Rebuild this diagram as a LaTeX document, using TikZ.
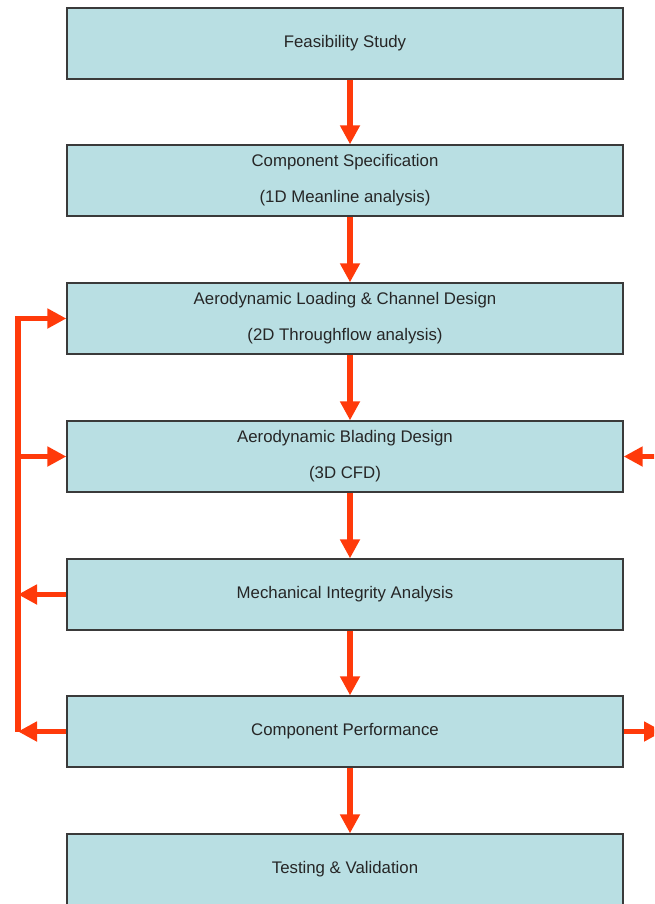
\documentclass[tikz,border=0pt]{standalone}
\usepackage{fontspec}
\setmainfont{Liberation Sans}
\usepackage{xcolor}
\usepackage{tikz}
\usetikzlibrary{arrows.meta, positioning}

\definecolor{boxfill}{HTML}{B9DFE3}
\definecolor{boxline}{HTML}{3A3A3A}
\definecolor{flowred}{HTML}{FF3A0A}

\tikzset{
  stage/.style={draw=boxline, line width=1.3pt, fill=boxfill, text=black!85,
    minimum width=556pt, minimum height=71pt, inner sep=0pt, align=center,
    font=\fontsize{16.8}{36}\selectfont},
  flow/.style={draw=flowred, line width=5.5pt, line join=miter,
    -{Triangle[length=19pt, width=19pt]}}
}

\begin{document}
\begin{tikzpicture}[x=1pt, y=-1pt]
  \useasboundingbox (0,0) rectangle (654,904);
  \clip (0,0) rectangle (654,904);

  \node[stage] (FS) at (345,43.5) {Feasibility Study};
  \node[stage] (CS) at (345,180.5) {Component Specification\\(1D Meanline analysis)};
  \node[stage] (AL) at (345,318.5) {Aerodynamic Loading \& Channel Design\\(2D Throughflow analysis)};
  \node[stage] (AB) at (345,456.5) {Aerodynamic Blading Design\\(3D CFD)};
  \node[stage] (MI) at (345,594.5) {Mechanical Integrity Analysis};
  \node[stage] (CP) at (345,731.5) {Component Performance};
  \node[stage] (TV) at (345,869.5) {Testing \& Validation};

  % main chain
  \draw[flow] ([xshift=5pt]FS.south) -- ([xshift=5pt]CS.north);
  \draw[flow] ([xshift=5pt]CS.south) -- ([xshift=5pt]AL.north);
  \draw[flow] ([xshift=5pt]AL.south) -- ([xshift=5pt]AB.north);
  \draw[flow] ([xshift=5pt]AB.south) -- ([xshift=5pt]MI.north);
  \draw[flow] ([xshift=5pt]MI.south) -- ([xshift=5pt]CP.north);
  \draw[flow] ([xshift=5pt]CP.south) -- ([xshift=5pt]TV.north);

  % feedback loop on the left
  \coordinate (LT) at (18,318.5);
  \coordinate (LB) at (18,731.5);
  \draw[flow] (LB) -- (LT) -- (AL.west);
  \draw[flow] (AB.west -| LT) -- (AB.west);
  \draw[flow] (MI.west) -- (MI.west -| LT);
  \draw[flow] (CP.west) -- (LB);

  % links off the right edge
  \coordinate (RI) at (660,456.5);
  \coordinate (RO) at (663,731.5);
  \draw[flow] (RI) -- (AB.east);
  \draw[flow] (CP.east) -- (RO);
\end{tikzpicture}
\end{document}
